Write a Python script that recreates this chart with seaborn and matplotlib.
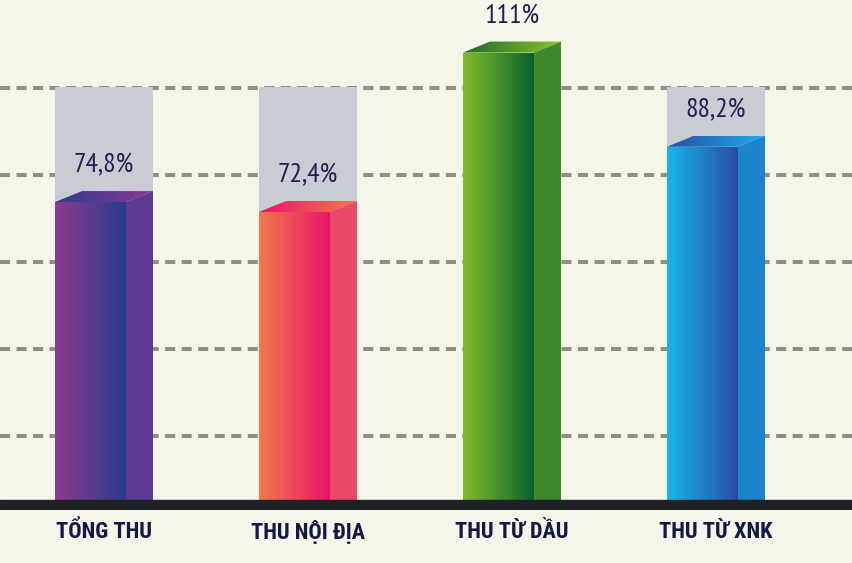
import numpy as np
import pandas as pd
import matplotlib
matplotlib.use("Agg")
import matplotlib.pyplot as plt
import seaborn as sns
from matplotlib.colors import LinearSegmentedColormap
from matplotlib.patches import Polygon

# ---------------- data ----------------
categories = ["TỔNG THU", "THU NỘI ĐỊA", "THU TỪ DẦU", "THU TỪ XNK"]
values = [74.8, 72.4, 111.0, 88.2]
value_labels = ["74,8%", "72,4%", "111%", "88,2%"]
target = [100, 100, 100, 100]
grid_levels = [15.5, 36.6, 57.6, 78.7, 99.8]

# ---------------- style ----------------
front_left = ["#8c3a8f", "#f07a4a", "#86bc2c", "#16b6ec"]
front_right = ["#2b3c8e", "#e8146c", "#06622a", "#2a4ca2"]
top_left = ["#2b3c8e", "#e8146c", "#1d6b2a", "#2a4ca2"]
top_right = ["#8c3a8f", "#f07a48", "#8cc12c", "#1cb0ea"]
side_col = ["#5a3a92", "#ea4868", "#3d8a2c", "#1a84cf"]
bg = "#f4f6ea"
gray = "#c9ccd3"
navy = "#1c1f52"

sns.set_style("white")
plt.rcParams["font.family"] = ["DejaVu Sans"]

W, H = 852, 563
fig = plt.figure(figsize=(W / 100, H / 100), dpi=100)
fig.patch.set_facecolor(bg)
px_per_unit_x = 204.0
px_per_unit_y = 4.13
base_px = 63          # baseline distance from figure bottom (px)
band_px = 10          # thickness of the black floor band
ax_bottom = base_px - band_px
ax = fig.add_axes([0, ax_bottom / H, 1, (H - ax_bottom) / H])
ax.set_facecolor(bg)

front_w = 71 / px_per_unit_x
depth = 27 / px_per_unit_x
dy = 11 / px_per_unit_y

df = pd.DataFrame({"category": categories, "value": values})
sns.barplot(data=df, x="category", y="value", hue="category", order=categories,
            hue_order=categories, palette=front_right, width=front_w,
            legend=False, errorbar=None, ax=ax, zorder=3, linewidth=0)
bars = sorted(list(ax.patches), key=lambda p: p.get_x())

# gridlines
for g in grid_levels:
    ax.axhline(g, color="#8f8f86", lw=2.9, ls=(0, (2.5, 1.6)), zorder=1)

# gray target bars
xs = np.arange(len(categories))
ax.bar(xs - front_w / 2, target, width=front_w + depth, align="edge",
       color=gray, zorder=2, linewidth=0)

val_font = ["PT Sans Narrow", "Asap Condensed", "Barlow Semi Condensed", "Open Sans", "DejaVu Sans"]
cat_font = ["Roboto Condensed", "Barlow Condensed", "Oswald", "Liberation Sans Narrow", "DejaVu Sans"]

grad = np.linspace(0, 1, 256).reshape(1, -1)
for i, p in enumerate(bars):
    x0, w, h = p.get_x(), p.get_width(), p.get_height()
    hf = h - dy
    p.set_height(hf)
    cm = LinearSegmentedColormap.from_list("f%d" % i, [front_left[i], front_right[i]])
    im = ax.imshow(grad, cmap=cm, extent=[x0, x0 + w, 0, hf], aspect="auto",
                   zorder=4, interpolation="bicubic")
    im.set_clip_path(p)
    # side face
    side = Polygon([(x0 + w, 0), (x0 + w + depth, 0), (x0 + w + depth, h), (x0 + w, hf)],
                   closed=True, facecolor=side_col[i], edgecolor="none", zorder=4)
    ax.add_patch(side)
    # top face
    top = Polygon([(x0, hf), (x0 + w, hf), (x0 + w + depth, h), (x0 + depth, h)],
                  closed=True, facecolor="none", edgecolor="none", zorder=4)
    ax.add_patch(top)
    cm2 = LinearSegmentedColormap.from_list("t%d" % i, [top_left[i], top_right[i]])
    im2 = ax.imshow(grad, cmap=cm2, extent=[x0, x0 + w + depth, hf, h], aspect="auto",
                    zorder=5, interpolation="bicubic")
    im2.set_clip_path(top)
    # value label
    ax.text(i + depth / 2, values[i] + 6.2, value_labels[i], ha="center", va="center",
            fontsize=20, color=navy, family=val_font, fontweight="normal", zorder=6)
    # category label
    ax.text(i + depth / 2, -7.8, categories[i], ha="center", va="center",
            fontsize=16, color="#141848", fontweight="bold", family=cat_font,
            zorder=6, clip_on=False)

# floor band
ax.axhspan(-band_px / px_per_unit_y, 0, color="#1e2222", zorder=10)

ax.set_xlim(-90.5 / px_per_unit_x, (W - 90.5) / px_per_unit_x)
ax.set_ylim(-band_px / px_per_unit_y, (H - base_px) / px_per_unit_y)
ax.axis("off")

fig.savefig("out.png", dpi=100, facecolor=bg)
